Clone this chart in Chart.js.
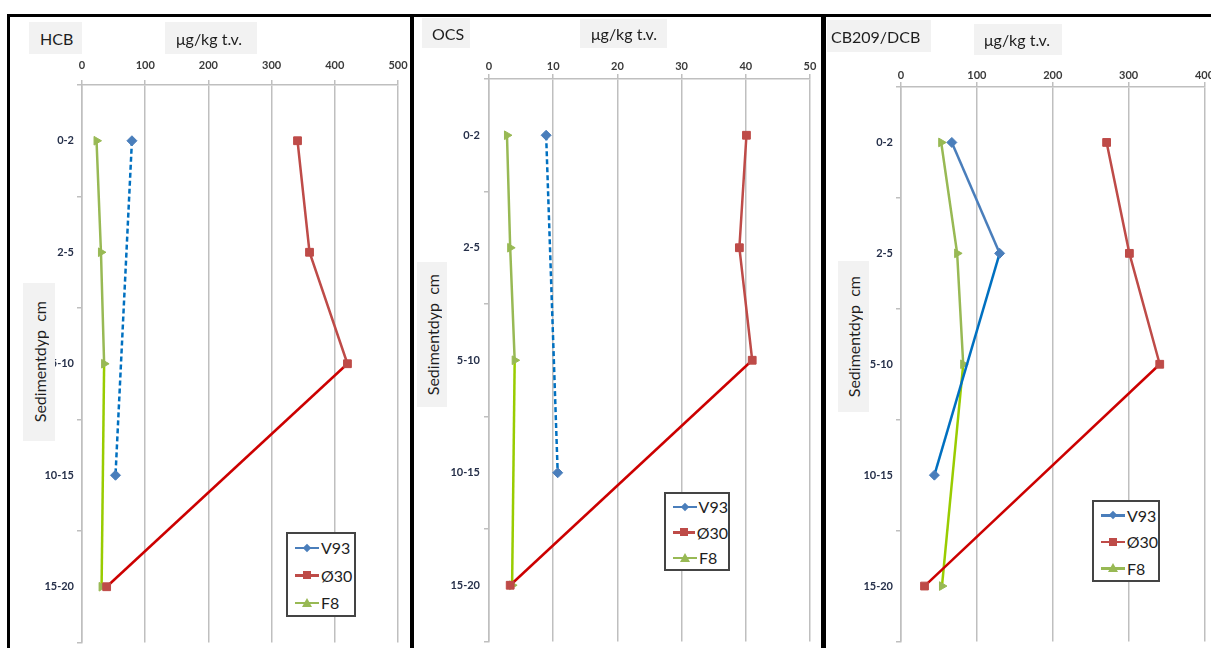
<!DOCTYPE html>
<html>
<head>
<meta charset="utf-8">
<script src="https://cdn.jsdelivr.net/npm/chart.js@4.4.0/dist/chart.umd.min.js"></script>
<style>
  html, body { margin: 0; padding: 0; background: #fff; }
  body { width: 1211px; height: 648px; position: relative; overflow: hidden; font-family: Lato, "Open Sans", sans-serif; }
  .bar { position: absolute; background: #000; }
  canvas { position: absolute; }
  .tag { position: absolute; background: #F2F2F2; color: #1e1e1e; font-size: 16px; display: flex; align-items: center; box-sizing: border-box; white-space: nowrap; }
  .ytitle { position: absolute; background: #F2F2F2; color: #1e1e1e; font-size: 16px; display: flex; align-items: center; justify-content: center; }
  .ytitle span { writing-mode: vertical-rl; transform: rotate(180deg); white-space: pre; }
  .legend { position: absolute; background: #fff; border: 2px solid #444; box-sizing: border-box; font-size: 16px; color: #1e1e1e; }
  .row { position: relative; display: flex; align-items: center; }
  .sample { position: relative; width: 24px; height: 2.5px; margin-left: 7px; margin-right: 2px; }
  .mk { position: absolute; left: 50%; top: 50%; }
  .mk.rectRot { width: 6px; height: 6px; margin: -3px 0 0 -3px; transform: rotate(45deg); }
  .mk.rect { width: 8px; height: 8px; margin: -4px 0 0 -4px; }
  .mk.triangle { width: 0; height: 0; margin: -5px 0 0 -5px; border-left: 5px solid transparent; border-right: 5px solid transparent; border-bottom: 9px solid; }
</style>
</head>
<body>
<div class="bar" style="left:7px; top:14px; width:1210px; height:3px;"></div>
<div class="bar" style="left:7px; top:14px; width:3px; height:640px;"></div>
<div class="bar" style="left:410px; top:14px; width:4px; height:640px;"></div>
<div class="bar" style="left:821px; top:14px; width:5px; height:640px;"></div>

<canvas id="hcb" width="400" height="632" style="left:10px; top:17px;"></canvas>
<canvas id="ocs" width="407" height="631" style="left:414px; top:17px;"></canvas>
<canvas id="cb" width="385" height="631" style="left:826px; top:17px;"></canvas>

<div class="tag" style="left:29px; top:22px; width:53px; height:32px; padding-left:11px;">HCB</div>
<div class="tag" style="left:165px; top:22px; width:92px; height:32px; padding-left:11px;">μg/kg t.v.</div>
<div class="tag" style="left:422px; top:18px; width:48px; height:30px; padding-left:10px;">OCS</div>
<div class="tag" style="left:580px; top:19px; width:87px; height:29px; padding-left:11px;">μg/kg t.v.</div>
<div class="tag" style="left:827px; top:20px; width:104px; height:32px; padding-left:4px;">CB209/DCB</div>
<div class="tag" style="left:974px; top:24px; width:88px; height:31px; padding-left:10px;">μg/kg t.v.</div>

<div class="ytitle" style="left:23px; top:283px; width:32px; height:158px;"><span>Sedimentdyp  cm</span></div>
<div class="ytitle" style="left:417px; top:262px; width:30px; height:145px;"><span>Sedimentdyp  cm</span></div>
<div class="ytitle" style="left:838px; top:261px; width:31px; height:151px;"><span>Sedimentdyp  cm</span></div>

<div class="legend" id="legHcb" style="left:286px; top:532px; width:70px; height:85px;"></div>
<div class="legend" id="legOcs" style="left:664px; top:492px; width:66px; height:79px;"></div>
<div class="legend" id="legCb" style="left:1092px; top:500px; width:68px; height:82px;"></div>

<script>
// depth intervals (cm), top to bottom
const depths = ['0-2', '2-5', '5-10', '10-15', '15-20'];
const seriesNames = ['V93', 'Ø30', 'F8'];

// HCB, µg/kg t.v.
const hcbV93 = [79, null, null, 53, null];
const hcbO30 = [341, 360, 420, null, 39];
const hcbF8 = [23, 30, 35, null, 31];

// OCS
const ocsV93 = [8.9, null, null, 10.7, null];
const ocsO30 = [40.1, 39.0, 41.0, null, 3.3];
const ocsF8 = [2.8, 3.3, 4.0, null, 3.6];

// CB209/DCB
const cbV93 = [67, 130, null, 44, null];
const cbO30 = [271, 301, 341, null, 31];
const cbF8 = [53, 74, 82, null, 54];

// x axis ranges
const hcbAxis = { max: 500, step: 100 };
const ocsAxis = { max: 50, step: 10 };
const cbAxis = { max: 400, step: 100 };

const GRID = '#BFBFBF';
const TICK_FONT = { family: 'Lato, "Open Sans", sans-serif', size: 11, weight: 'bold' };

function isGap(ctx) {
  return ctx.p0.skip || ctx.p1.skip;
}

function series(label, data, color, gapColor, style, radius, gapDash) {
  return {
    label: label,
    data: data,
    borderColor: color,
    backgroundColor: color,
    borderWidth: 2.5,
    pointStyle: style,
    pointRadius: radius,
    pointRotation: style === 'triangle' ? 90 : 0,
    pointBorderWidth: 1,
    spanGaps: true,
    segment: {
      borderColor: ctx => isGap(ctx) ? gapColor : undefined,
      borderDash: ctx => isGap(ctx) ? gapDash : undefined
    }
  };
}

function makePanel(id, v93, o30, f8, axis, lay, v93Dash) {
  return new Chart(document.getElementById(id), {
    type: 'line',
    data: {
      labels: depths,
      datasets: [
        series(seriesNames[0], v93, '#4A7EBB', '#0070C0', 'rectRot', 5, v93Dash),
        series(seriesNames[1], o30, '#BE4B48', '#CC0000', 'rect', 5.5, []),
        series(seriesNames[2], f8, '#98B954', '#99CC00', 'triangle', 5, [])
      ]
    },
    options: {
      indexAxis: 'y',
      responsive: false,
      animation: false,
      layout: { padding: { left: 0, top: 0, right: lay.right, bottom: lay.bottom } },
      plugins: { legend: { display: false }, tooltip: { enabled: false } },
      scales: {
        x: {
          type: 'linear',
          position: 'top',
          min: 0,
          max: axis.max,
          ticks: { stepSize: axis.step, padding: lay.xPad, font: TICK_FONT, color: '#3a3a3a' },
          grid: { color: GRID, lineWidth: 1.5, tickLength: 5 },
          border: { color: GRID, width: 1.5 },
          afterFit: s => { s.height = lay.top; s.paddingLeft = 0; s.paddingRight = 0; }
        },
        y: {
          type: 'category',
          offset: true,
          ticks: { padding: lay.yPad, font: TICK_FONT, color: '#26304a' },
          grid: { offset: true, drawOnChartArea: false, color: GRID, lineWidth: 1.5, tickLength: 5 },
          border: { color: GRID, width: 1.5 },
          afterFit: s => { s.width = lay.left; s.paddingTop = 0; s.paddingBottom = 0; }
        }
      }
    }
  });
}

function buildLegend(elId, chart, rowH, firstCenter) {
  const el = document.getElementById(elId);
  el.style.paddingTop = (firstCenter - rowH / 2 - 2) + 'px';
  chart.data.datasets.forEach(d => {
    const row = document.createElement('div');
    row.className = 'row';
    row.style.height = rowH + 'px';
    const sample = document.createElement('div');
    sample.className = 'sample';
    sample.style.background = d.borderColor;
    const mk = document.createElement('div');
    mk.className = 'mk ' + d.pointStyle;
    if (d.pointStyle === 'triangle') mk.style.borderBottomColor = d.borderColor;
    else mk.style.background = d.borderColor;
    sample.appendChild(mk);
    const txt = document.createElement('span');
    txt.textContent = d.label;
    row.appendChild(sample);
    row.appendChild(txt);
    el.appendChild(row);
  });
}

const hcbChart = makePanel('hcb', hcbV93, hcbO30, hcbF8, hcbAxis,
  { left: 72, top: 68, right: 12, bottom: 6, xPad: 8, yPad: 3 }, [5, 3]);
const ocsChart = makePanel('ocs', ocsV93, ocsO30, ocsF8, ocsAxis,
  { left: 75, top: 62, right: 11, bottom: 6, xPad: 1, yPad: 4 }, [5, 3]);
const cbChart = makePanel('cb', cbV93, cbO30, cbF8, cbAxis,
  { left: 75, top: 70, right: 6, bottom: 5, xPad: 0, yPad: 3 }, []);

buildLegend('legHcb', hcbChart, 27.5, 13);
buildLegend('legOcs', ocsChart, 25.5, 12);
buildLegend('legCb', cbChart, 26.5, 12);
</script>
</body>
</html>
